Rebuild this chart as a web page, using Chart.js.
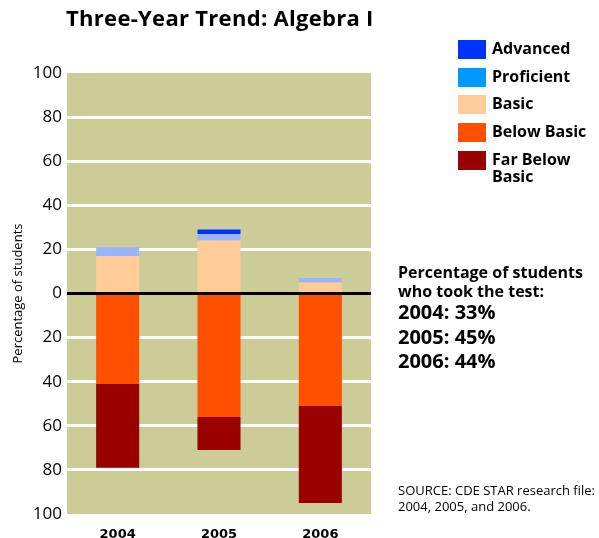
<!DOCTYPE html>
<html>
<head>
<meta charset="utf-8">
<script src="https://cdn.jsdelivr.net/npm/chart.js@4"></script>
<style>
  body { margin: 0; background: #fff; }
  #wrap { position: relative; width: 599px; height: 538px; overflow: hidden; font-family: "Open Sans", sans-serif; color: #000; }
  #grafico { position: absolute; left: 0; top: 0; }
  .txt { position: absolute; white-space: nowrap; }
  #titulo { left: 66px; top: 2px; font-weight: bold; font-size: 22px; letter-spacing: 0.3px; }
  .leyenda { position: absolute; left: 458px; font-weight: bold; font-size: 16px; line-height: 17px; }
  .leyenda span.cuadro { position: absolute; left: 0; top: 0; width: 28px; height: 19px; }
  .leyenda span.etiqueta { position: absolute; left: 34px; top: 0; }
  #nota { left: 398px; top: 263px; font-weight: bold; font-size: 16px; line-height: 19px; }
  .anio { left: 398px; font-weight: bold; font-size: 20px; }
  #fuente { left: 398px; top: 482px; font-size: 13px; line-height: 16px; }
</style>
</head>
<body>
<div id="wrap">
  <canvas id="grafico" width="599" height="538"></canvas>
  <div class="txt" id="titulo">Three-Year Trend: Algebra I</div>
  <div id="leyenda"></div>
  <div class="txt" id="nota">Percentage of students<br>who took the test:</div>
  <div id="participacion"></div>
  <div class="txt" id="fuente">SOURCE: CDE STAR research file:<br>2004, 2005, and 2006.</div>
</div>
<script>
// --- DATOS ---
const anios = ['2004', '2005', '2006'];
const advanced = [0, 2, 0];
const proficient = [4, 3, 2];
const basic = [17, 24, 5];
const belowBasic = [41, 56, 51];
const farBelowBasic = [38, 15, 44];
const tomaronPrueba = [33, 45, 44];
const ticksY = [-100, -80, -60, -40, -20, 0, 20, 40, 60, 80, 100];

// colores de las barras y de la leyenda (la leyenda usa otro azul)
const niveles = [
    { nombre: 'Advanced', barra: '#0033ff', leyenda: '#0033ff' },
    { nombre: 'Proficient', barra: '#99b3ff', leyenda: '#0099ff' },
    { nombre: 'Basic', barra: '#ffcc99', leyenda: '#ffcc99' },
    { nombre: 'Below Basic', barra: '#ff5000', leyenda: '#ff5000' },
    { nombre: 'Far Below<br>Basic', barra: '#990000', leyenda: '#990000' }
];

// leyenda HTML
const leyenda = document.getElementById('leyenda');
niveles.forEach((n, i) => {
    const d = document.createElement('div');
    d.className = 'leyenda';
    d.style.top = (40 + i * 27.7) + 'px';
    d.innerHTML = `<span class="cuadro" style="background:${n.leyenda}"></span><span class="etiqueta" style="white-space:nowrap">${n.nombre}</span>`;
    leyenda.appendChild(d);
});

const part = document.getElementById('participacion');
anios.forEach((a, i) => {
    const d = document.createElement('div');
    d.className = 'txt anio';
    d.style.top = (298 + i * 24.5) + 'px';
    d.textContent = `${a}: ${tomaronPrueba[i]}%`;
    part.appendChild(d);
});

// fondo del área del gráfico
const fondo = {
    id: 'fondo',
    beforeDraw(c) {
        const a = c.chartArea;
        c.ctx.save();
        c.ctx.fillStyle = '#cccc99';
        c.ctx.fillRect(a.left, a.top, a.right - a.left, a.bottom - a.top);
        c.ctx.restore();
    }
};

const neg = arr => arr.map(v => -v);
const barra = (label, data, color) => ({
    label, data, backgroundColor: color, borderWidth: 0,
    categoryPercentage: 1, barPercentage: 0.425
});

new Chart(document.getElementById('grafico'), {
    type: 'bar',
    data: {
        labels: anios,
        datasets: [
            barra('Basic', basic, niveles[2].barra),
            barra('Proficient', proficient, niveles[1].barra),
            barra('Advanced', advanced, niveles[0].barra),
            barra('Below Basic', neg(belowBasic), niveles[3].barra),
            barra('Far Below Basic', neg(farBelowBasic), niveles[4].barra)
        ]
    },
    options: {
        responsive: false,
        animation: false,
        layout: { padding: { top: 73, right: 228, left: 0, bottom: 0 } },
        plugins: { legend: { display: false }, tooltip: { enabled: false } },
        scales: {
            x: {
                stacked: true,
                grid: { display: false },
                border: { display: false },
                ticks: { color: '#000', font: { family: 'DejaVu Sans', weight: 'bold', size: 13 }, padding: 5 },
                afterFit(s) { s.height = 24; }
            },
            y: {
                stacked: true,
                min: -100, max: 100,
                afterBuildTicks(s) { s.ticks = ticksY.map(v => ({ value: v })); },
                ticks: {
                    color: '#000', padding: 5,
                    font: { family: 'Open Sans', size: 17 },
                    callback: v => Math.abs(v)
                },
                grid: {
                    drawTicks: false,
                    lineWidth: 3,
                    color: c => c.tick.value === 0 ? '#000' : (Math.abs(c.tick.value) === 100 ? 'rgba(0,0,0,0)' : '#fff')
                },
                border: { display: false },
                title: { display: true, text: 'Percentage of students', color: '#000', font: { family: 'Open Sans', size: 13 }, padding: { top: 10, bottom: 0 } },
                afterFit(s) { s.width = 67; }
            }
        }
    },
    plugins: [fondo]
});
</script>
</body>
</html>
